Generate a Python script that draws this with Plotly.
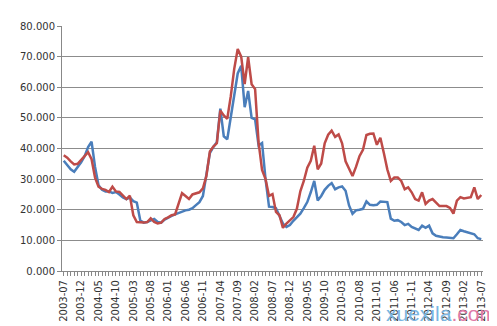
import plotly.graph_objects as go

months = []
y, m = 2003, 7
for _ in range(121):
    months.append(f"{y}-{m:02d}")
    m += 1
    if m > 12:
        m = 1
        y += 1

blue = [36.0, 34.5, 33.2, 32.4, 33.8, 35.5, 37.5, 40.5, 42.2, 34.0,
        28.0, 26.5, 26.0, 26.0, 25.5, 25.8, 25.0, 24.0, 23.5, 24.0,
        22.8, 22.3, 16.5, 15.8, 16.0, 16.5, 17.0, 16.0, 15.8, 16.8,
        17.5, 18.0, 18.5, 19.0, 19.5, 19.8, 20.0, 20.5, 21.5, 22.5,
        24.5, 31.0, 38.5, 40.5, 42.0, 53.0, 44.0, 43.0, 50.0, 58.0,
        64.5, 67.0, 53.5, 58.8, 50.0, 49.5, 41.0, 41.8, 30.0, 21.0,
        20.9, 20.5, 18.0, 15.5, 14.4, 15.0, 16.4, 17.5, 18.7, 20.5,
        22.5, 25.7, 29.4, 23.0, 24.5, 26.5, 27.8, 28.7, 26.7, 27.3,
        27.6, 26.2, 21.4, 18.7, 19.8, 20.0, 20.3, 22.7, 21.6, 21.5,
        21.6, 22.7, 22.7, 22.5, 17.1, 16.4, 16.6, 16.0, 15.0, 15.4,
        14.4, 13.8, 13.4, 14.8, 14.1, 14.8, 12.3, 11.5, 11.2, 11.0,
        10.9, 10.8, 10.7, 12.0, 13.4, 13.0, 12.6, 12.2, 12.0, 10.7,
        10.4]

red = [37.8, 37.0, 35.8, 34.8, 35.0, 36.2, 37.5, 38.8, 36.5, 30.5,
       27.5, 26.8, 26.5, 25.8, 27.5, 26.0, 25.8, 24.5, 23.5, 24.6,
       18.2, 16.0, 15.8, 15.8, 16.0, 17.2, 16.0, 15.5, 15.8, 17.0,
       17.5, 18.2, 18.5, 22.0, 25.4, 24.5, 23.5, 25.0, 25.3, 25.7,
       27.0, 31.0, 39.0, 40.6, 41.7, 52.4, 50.8, 49.7, 57.0, 66.0,
       72.5, 70.0, 61.0, 69.8, 61.0, 59.4, 42.0, 33.0, 30.0, 24.5,
       25.1, 19.3, 18.2, 14.1, 15.5, 16.5, 17.6, 20.3, 26.0, 29.4,
       33.7, 36.0, 40.9, 33.2, 35.1, 41.7, 44.5, 45.8, 43.8, 44.6,
       41.7, 35.8, 33.5, 31.0, 34.0, 37.5, 39.6, 44.4, 44.8, 44.9,
       41.2, 43.5, 38.5, 33.2, 29.4, 30.5, 30.5, 29.4, 26.7, 27.3,
       25.7, 23.5, 23.0, 25.7, 21.9, 23.0, 23.5, 22.2, 21.2, 21.2,
       21.2, 20.6, 18.7, 23.0, 24.1, 23.7, 23.9, 24.1, 27.3, 23.5,
       24.8]

tick_idx = list(range(0, 121, 5))
tick_labels = [months[i] for i in tick_idx]
y_ticks = [0, 10, 20, 30, 40, 50, 60, 70, 80]

idx = list(range(len(months)))

fig = go.Figure()
fig.add_trace(go.Scatter(x=idx, y=blue, mode="lines",
                         line=dict(color="#4A7EBB", width=2.5), hoverinfo="skip"))
fig.add_trace(go.Scatter(x=idx, y=red, mode="lines",
                         line=dict(color="#BE4B48", width=2.5), hoverinfo="skip"))

fig.update_layout(
    width=497, height=326,
    margin=dict(l=50, r=22, t=14, b=63),
    paper_bgcolor="white", plot_bgcolor="white",
    showlegend=False,
    font=dict(family="DejaVu Sans", size=10, color="#333333"),
    xaxis=dict(
        range=[-0.5, 120.5],
        tickmode="array", tickvals=tick_idx, ticktext=tick_labels,
        tickangle=-90, showgrid=False, zeroline=False,
        showline=True, linecolor="#888888", linewidth=1,
        ticks="outside", ticklen=4, tickcolor="#888888",
        minor=dict(dtick=1, tick0=0, ticks="outside", ticklen=4, tickcolor="#888888"),
        tickfont=dict(size=10, color="#333333"),
    ),
    yaxis=dict(
        range=[0, 80], tickmode="array", tickvals=y_ticks,
        tickformat=".3f",
        showgrid=True, gridcolor="#8c8c8c", gridwidth=1,
        zeroline=False, showline=True, linecolor="#888888", linewidth=1,
        ticks="outside", ticklen=4, tickcolor="#888888",
        tickfont=dict(size=10, color="#333333"),
    ),
)

fig.add_annotation(
    x=1.0, y=0, xref="paper", yref="paper", xanchor="right", yanchor="bottom",
    yshift=-55, xshift=15, borderpad=0,
    text='<span style="color:#7ab6e3">xuexila</span><span style="color:#e07aa8">.com</span>',
    showarrow=False, font=dict(family="Liberation Sans", size=21),
)

fig.write_html("out.html")
